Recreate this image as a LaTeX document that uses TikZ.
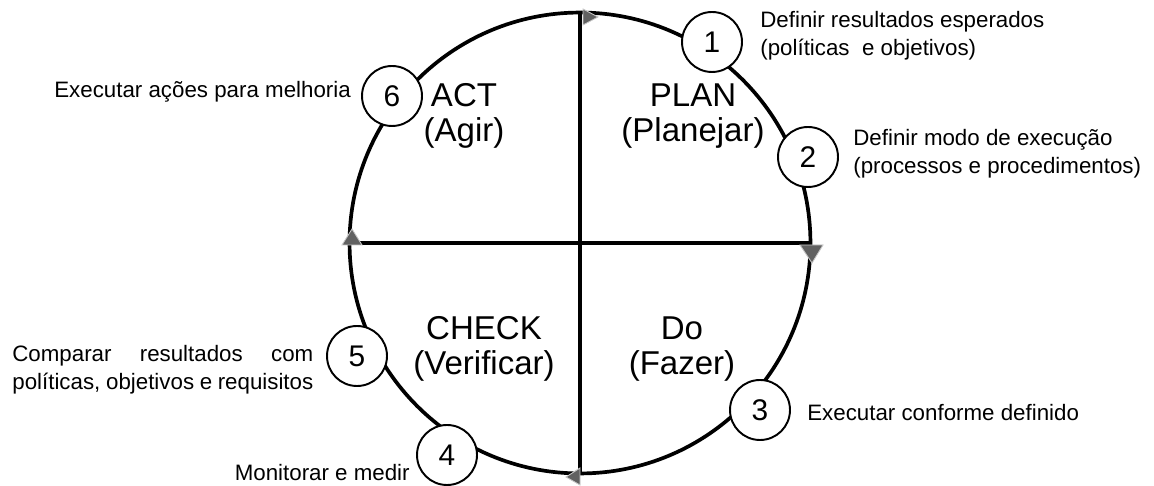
\documentclass[tikz,border=0pt]{standalone}
\usepackage{fontspec}
\setmainfont{Liberation Sans}
\begin{document}
\begin{tikzpicture}
		[x=0.02cm,y=-0.02cm,
		lineDecorate/.style={-,line width=2.1pt},
		cycleDecorate/.style={shape=circle,draw,line width=2.1pt,minimum size=9.22cm,inner sep=0pt},
		numberDecorate/.style={shape=circle,draw,line width=1.1pt,fill=white,minimum size=1.2cm,inner sep=0pt,font=\fontsize{17}{19}\selectfont},
		phaseDecorate/.style={align=center,font=\fontsize{18.8}{19.8}\selectfont},
		noteDecorate/.style={align=left,inner sep=0pt,font=\fontsize{12.7}{15.9}\selectfont},
		arrowDecorate/.style={fill=black!62,draw=black!22,line width=0.5pt}]
		\useasboundingbox (0,0) rectangle (1154,486);
		%% cycle and quadrants
		\node (cycle) at (580,243) [cycleDecorate] {};
		\draw[lineDecorate] (cycle.north) -- (cycle.south);
		\draw[lineDecorate] (cycle.west) -- (cycle.east);
		%% arrow heads on the cycle
		\foreach \ax/\ay/\bx/\by/\cx/\cy in {
			583/9/583/25/598/17, 800/245/823/245/812/263,
			580/468/580/485/566/477, 342/245/362/245/352/229}
		{
			\filldraw[arrowDecorate] (\ax,\ay) -- (\bx,\by) -- (\cx,\cy) -- cycle;
		}
		%% phase names
		\foreach \nodename/\x/\y/\phase/\verb in {
			act/464/116/ACT/Agir, plan/693/116/PLAN/Planejar,
			check/484/349/CHECK/Verificar, do/682/349/Do/Fazer}
		{
			\node (\nodename) at (\x,\y) [phaseDecorate] {\phase\\(\verb)};
		}
		%% numbered steps
		\foreach \nodename/\x/\y/\digit in {
			one/712/42/1, two/808/157/2, three/760/410/3,
			four/447/455/4, five/357/356/5, six/392/96/6}
		{
			\node (\nodename) at (\x,\y) [numberDecorate] {\digit};
		}
		%% notes
		\node (noteOne) at (760,36) [noteDecorate,anchor=west] {Definir resultados esperados\\(políticas~ e objetivos)};
		\node (noteTwo) at (853,154) [noteDecorate,anchor=west] {Definir modo de execução\\(processos e procedimentos)};
		\node (noteThree) at (807,413) [noteDecorate,anchor=west] {Executar conforme definido};
		\node (noteFour) at (410,473) [noteDecorate,anchor=east] {Monitorar e medir};
		\node (noteFive) at (12,370) [noteDecorate,anchor=west,text width=6.02cm,align=justify] {Comparar resultados com\linebreak políticas, objetivos e requisitos};
		\node (noteSix) at (54,92) [noteDecorate,anchor=west] {Executar ações para melhoria};
	\end{tikzpicture}
\end{document}
